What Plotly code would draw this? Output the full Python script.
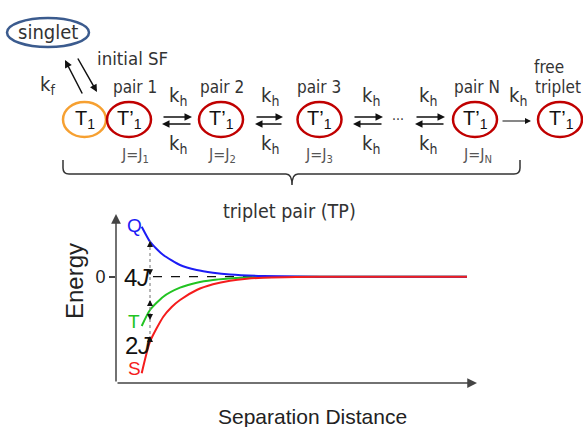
import plotly.graph_objects as go

W, H = 583, 427

# ---- data: energy curves (arbitrary units) vs separation distance ----
dist_Q = [2.57, 3.4, 4.07, 4.73, 6.4, 8.07, 9.7, 11.4, 14.7, 18.4, 22.0, 35.1]
energy_Q = [5.0, 3.5, 2.77, 2.17, 1.17, 0.67, 0.40, 0.22, 0.07, 0.02, 0.0, 0.0]

dist_T = [2.57, 3.4, 4.73, 6.4, 8.07, 9.7, 11.4, 13.07, 16.0, 20.0, 35.1]
energy_T = [-4.93, -3.33, -2.0, -1.1, -0.6, -0.33, -0.18, -0.06, -0.02, 0.0, 0.0]

dist_S = [2.57, 3.4, 4.73, 5.57, 6.4, 8.07, 9.7, 11.4, 13.07, 14.7, 18.0, 22.0, 35.1]
energy_S = [-9.66, -6.5, -4.0, -3.03, -2.33, -1.33, -0.76, -0.40, -0.20, -0.10, -0.03, 0.0, 0.0]

pair_labels = ["pair 1", "pair 2", "pair 3", "pair N"]
pair_J = ["J=J<sub>1</sub>", "J=J<sub>2</sub>", "J=J<sub>3</sub>", "J=J<sub>N</sub>"]

NARROW = "DejaVu Sans Condensed, Liberation Sans Narrow, sans-serif"
ARIAL = "Liberation Sans, Arial, sans-serif"
GRAY = "#333333"


def px(x):
    return x / W


def py(y):
    return 1 - y / H


fig = go.Figure()
fig.add_trace(go.Scatter(x=dist_T, y=energy_T, mode="lines", line=dict(color="#22c322", width=2, shape="spline", smoothing=0.6), hoverinfo="skip"))
fig.add_trace(go.Scatter(x=dist_Q, y=energy_Q, mode="lines", line=dict(color="#1c1cf5", width=2, shape="spline", smoothing=0.6), hoverinfo="skip"))
fig.add_trace(go.Scatter(x=dist_S, y=energy_S, mode="lines", line=dict(color="#f51c1c", width=2, shape="spline", smoothing=0.6), hoverinfo="skip"))

shapes = []
ann = []


def text(x, y, s, size, color=GRAY, family=NARROW, **kw):
    d = dict(x=px(x), y=py(y), xref="paper", yref="paper", text=s, showarrow=False,
             font=dict(size=size, color=color, family=family), xanchor="center", yanchor="middle")
    d.update(kw)
    ann.append(d)


def arrow(x0, y0, x1, y1, width=1.5, color="#111", head=2, size=1.0):
    ann.append(dict(x=px(x1), y=py(y1), xref="paper", yref="paper", ax=x0 - x1, ay=y0 - y1,
                    axref="pixel", ayref="pixel", text="", showarrow=True, arrowhead=head,
                    arrowsize=size, arrowwidth=width, arrowcolor=color, standoff=0, startstandoff=0))


def ellipse(x0, x1, y0, y1, color, width=2.5):
    shapes.append(dict(type="circle", xref="paper", yref="paper", x0=px(x0), x1=px(x1),
                       y0=py(y1), y1=py(y0), line=dict(color=color, width=width)))


# singlet
ellipse(7, 89, 18, 47, "#3b5b8e")
text(48, 32, "singlet", 20)
arrow(83, 95, 65, 60, width=1.5)
arrow(77, 57, 97, 92, width=1.5)
text(132, 58, "initial SF", 18.5)
text(47, 85, "k<sub>f</sub>", 20)

# T1 + pairs
ellipse(63, 106, 102, 137, "#f6a031")
text(85, 120, "T<sub>1</sub>", 20, color="#111", family=ARIAL)
centers = [129, 221, 319.5, 475]
label_x = [135, 222, 319, 477]
for cx, lx, lab, jl in zip(centers, label_x, pair_labels, pair_J):
    ellipse(cx - 22, cx + 22, 102, 137, "#c00000")
    text(cx, 120, "T’<sub>1</sub>", 20, color="#111", family=ARIAL)
    text(lx, 87, lab, 17)
    text(lx, 156, jl, 16, color="#555")

# free triplet
ellipse(538, 582, 102, 137, "#c00000")
text(561, 120, "T’<sub>1</sub>", 20, color="#111", family=ARIAL)
text(532, 67, "free", 17, xanchor="left")
text(583, 87, "triplet", 17, xanchor="right")

# equilibrium arrows
for xa, xb, kx in [(162, 192, 178), (255, 283, 270), (353, 383, 371), (415, 445, 428)]:
    arrow(xa, 117, xb, 117)
    arrow(xb, 124, xa, 124)
    text(kx, 96, "k<sub>h</sub>", 20)
    text(kx, 144, "k<sub>h</sub>", 20)
text(398, 119, "···", 14)
arrow(501, 121, 531, 121, width=1.2)
text(518, 96, "k<sub>h</sub>", 20)

# brace
pts = lambda x, y: f"{px(x):.5f},{py(y):.5f}"
path = (f"M {pts(63,160)} L {pts(63,168)} Q {pts(63,174)} {pts(69,174)} L {pts(286,174)} "
        f"Q {pts(292,174)} {pts(292,185)} Q {pts(292,174)} {pts(298,174)} L {pts(514,174)} "
        f"Q {pts(520,174)} {pts(520,168)} L {pts(520,160)}")
shapes.append(dict(type="path", xref="paper", yref="paper", path=path, line=dict(color=GRAY, width=1.5)))
text(289, 211, "triplet pair (TP)", 19.5)

# energy plot decorations
shapes.append(dict(type="line", xref="x", yref="y", x0=3.7, x1=35.1, y0=0, y1=0,
                   line=dict(color="#111", width=1.2, dash="dash"), layer="below"))
shapes.append(dict(type="line", xref="x", yref="y", x0=3.4, x1=3.4, y0=3.57, y1=-6.63,
                   line=dict(color="#888", width=1.2, dash="dot")))
for tip, up in [(3.57, True), (0.15, False), (-2.33, True), (-4.33, False), (-5.93, True)]:
    ann.append(dict(x=3.4, y=tip, xref="x", yref="y", ax=0, ay=(7 if up else -7), text="",
                    showarrow=True, arrowhead=2, arrowsize=1, arrowwidth=1.2, arrowcolor="#111",
                    standoff=0))

# axes arrows
arrow(116, 383, 116, 214, width=1.5, color="#444", size=1.3)
arrow(116, 383, 477, 383, width=1.5, color="#444", size=1.3)

text(137, 277, "4<i>J</i>", 24, color="#111", family=ARIAL)
text(138, 345, "2<i>J</i>", 24, color="#111", family=ARIAL)
text(134, 225, "Q", 19, color="#1c1cf5", family=ARIAL)
text(134, 321, "T", 19, color="#22c322", family=ARIAL)
text(134, 368, "S", 19, color="#f51c1c", family=ARIAL)
text(74, 281, "Energy", 24, color="#222", family=ARIAL, textangle=-90)
text(312, 416, "Separation Distance", 21, color="#222", family=ARIAL)

fig.update_layout(
    width=W, height=H, margin=dict(l=0, r=0, t=0, b=0),
    paper_bgcolor="white", plot_bgcolor="rgba(0,0,0,0)", showlegend=False,
    shapes=shapes, annotations=ann,
    xaxis=dict(domain=[px(116), px(476)], range=[0, 36], showgrid=False, zeroline=False,
               showline=False, showticklabels=False, ticks=""),
    yaxis=dict(domain=[py(383), py(215)], range=[-10.63, 6.17], showgrid=False, zeroline=False,
               showline=False, tickvals=[0], ticktext=["0"], ticks="outside", ticklen=6,
               tickcolor="#444", tickwidth=1.5, tickfont=dict(size=18, color="#222", family=ARIAL)),
)

fig.write_html("out.html")
